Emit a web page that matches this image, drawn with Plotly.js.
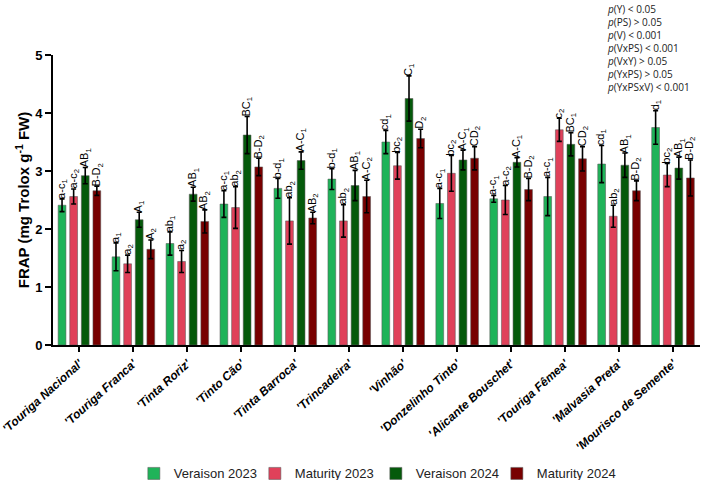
<!DOCTYPE html>
<html>
<head>
<meta charset="utf-8">
<script src="https://cdn.plot.ly/plotly-3.0.1.min.js"></script>
<style>
  html, body { margin: 0; padding: 0; background: #fff; }
  #chart { width: 708px; height: 480px; }
</style>
</head>
<body>
<div id="chart"></div>
<script>
// FRAP antioxidant activity per grape variety, two phenological stages in two years
const categories = ["'Touriga Nacional'", "'Touriga Franca'", "'Tinta Roriz'", "'Tinto Cão'",
  "'Tinta Barroca'", "'Trincadeira'", "'Vinhão'", "'Donzelinho Tinto'",
  "'Alicante Bouschet'", "'Touriga Fêmea'", "'Malvasia Preta'", "'Mourisco de Semente'"];

const veraison2023 = [2.41, 1.52, 1.75, 2.43, 2.70, 2.86, 3.50, 2.44, 2.52, 2.56, 3.12, 3.75];
const veraison2023Err = [0.11, 0.24, 0.20, 0.23, 0.17, 0.18, 0.20, 0.26, 0.06, 0.33, 0.32, 0.29];
const maturity2023 = [2.56, 1.40, 1.44, 2.37, 2.14, 2.14, 3.09, 2.96, 2.50, 3.71, 2.22, 2.93];
const maturity2023Err = [0.13, 0.15, 0.19, 0.36, 0.40, 0.28, 0.23, 0.31, 0.25, 0.20, 0.19, 0.20];
const veraison2024 = [2.92, 2.16, 2.60, 3.62, 3.18, 2.75, 4.25, 3.19, 3.15, 3.46, 3.10, 3.05];
const veraison2024Err = [0.14, 0.13, 0.12, 0.32, 0.15, 0.26, 0.39, 0.17, 0.08, 0.20, 0.21, 0.19];
const maturity2024 = [2.66, 1.65, 2.13, 3.07, 2.19, 2.56, 3.56, 3.22, 2.68, 3.21, 2.66, 2.88];
const maturity2024Err = [0.08, 0.16, 0.20, 0.15, 0.10, 0.28, 0.16, 0.20, 0.19, 0.21, 0.17, 0.31];

// significance letters (subscript 1 = veraison, 2 = maturity)
const veraison2023Letters = ["a-c", "a", "ab", "a-c", "b-d", "b-d", "cd", "a-c", "a-c", "a-c", "cd", "d"];
const maturity2023Letters = ["a-c", "a", "a", "ab", "ab", "ab", "bc", "bc", "a-c", "c", "ab", "bc"];
const veraison2024Letters = ["AB", "A", "AB", "BC", "A-C", "AB", "C", "A-C", "A-C", "BC", "AB", "AB"];
const maturity2024Letters = ["B-D", "A", "AB", "B-D", "AB", "A-C", "D", "CD", "B-D", "CD", "B-D", "B-D"];

const statLines = ["<i>p</i>(Y) < 0.05", "<i>p</i>(PS) > 0.05", "<i>p</i>(V) < 0.001",
  "<i>p</i>(VxPS) < 0.001", "<i>p</i>(VxY) > 0.05", "<i>p</i>(YxPS) > 0.05", "<i>p</i>(YxPSxV) < 0.001"];

const series = [
  { name: "Veraison 2023", y: veraison2023, err: veraison2023Err, letters: veraison2023Letters, sub: 1, color: "#1fb359" },
  { name: "Maturity 2023", y: maturity2023, err: maturity2023Err, letters: maturity2023Letters, sub: 2, color: "#e0415a" },
  { name: "Veraison 2024", y: veraison2024, err: veraison2024Err, letters: veraison2024Letters, sub: 1, color: "#055a0b" },
  { name: "Maturity 2024", y: maturity2024, err: maturity2024Err, letters: maturity2024Letters, sub: 2, color: "#780000" }
];

const BARGAP = 0.14;
const slot = (1 - BARGAP) / series.length;

const traces = series.map(s => ({
  type: "bar",
  name: s.name,
  x: categories.map((_, i) => i),
  y: s.y,
  marker: { color: s.color, line: { color: "rgba(90,90,90,0.7)", width: 0.8 } },
  error_y: { type: "data", array: s.err, visible: true, color: "#000", thickness: 1.6, width: 2.5 }
}));

// letters sit just above each error bar, at the centre of the bar's slot
const annotations = [];
series.forEach((s, k) => {
  const offset = -(1 - BARGAP) / 2 + (k + 0.5) * slot;
  s.y.forEach((v, i) => {
    annotations.push({
      x: i + offset, y: v + s.err[i], xref: "x", yref: "y",
      text: s.letters[i] + "<sub>" + s.sub + "</sub>",
      textangle: -90, showarrow: false,
      xanchor: "center", yanchor: "bottom", borderpad: 0, borderwidth: 0,
      font: { family: "Liberation Sans, Arial, sans-serif", size: 11, color: "#000" }
    });
  });
});

annotations.push({
  xref: "paper", yref: "paper", x: 0.853, y: 1.19, xanchor: "left", yanchor: "top",
  align: "left", showarrow: false, text: statLines.join("<br>"),
  font: { family: "Open Sans, Liberation Sans, sans-serif", size: 10, color: "#222" }
});

const layout = {
  width: 708, height: 480,
  margin: { l: 53, r: 8, t: 55, b: 135, autoexpand: false },
  paper_bgcolor: "#fff", plot_bgcolor: "#fff",
  barmode: "group", bargap: BARGAP, bargroupgap: 0.33,
  showlegend: true,
  legend: {
    orientation: "h", x: 0.499, xanchor: "center", y: -0.443, yanchor: "middle",
    entrywidth: 76, entrywidthmode: "pixels",
    font: { family: "Liberation Sans, Arial, sans-serif", size: 13, color: "#222" },
    traceorder: "normal"
  },
  xaxis: {
    tickmode: "array", tickvals: categories.map((_, i) => i), ticktext: categories,
    range: [-0.49, 11.5], automargin: false, ticklabeloverflow: "allow",
    showline: true, linecolor: "#000", linewidth: 2,
    ticks: "outside", ticklen: 5, tickwidth: 2, tickcolor: "#000",
    tickangle: -42, showgrid: false, zeroline: false,
    tickfont: { family: "Liberation Sans, Arial, sans-serif", size: 12, color: "#000", weight: "bold", style: "italic" }
  },
  yaxis: {
    range: [0, 5], dtick: 1, automargin: false,
    showline: true, linecolor: "#000", linewidth: 2,
    ticks: "outside", ticklen: 6, tickwidth: 2, tickcolor: "#000",
    showgrid: false, zeroline: false,
    tickfont: { family: "Liberation Sans, Arial, sans-serif", size: 13, color: "#000", weight: "bold" },
    title: {
      text: "FRAP (mg Trolox g<sup>-1</sup> FW)", standoff: 2,
      font: { family: "Liberation Sans, Arial, sans-serif", size: 15, color: "#000", weight: "bold" }
    }
  },
  annotations: annotations
};

Plotly.newPlot("chart", traces, layout, { displayModeBar: false, staticPlot: true });
</script>
</body>
</html>
